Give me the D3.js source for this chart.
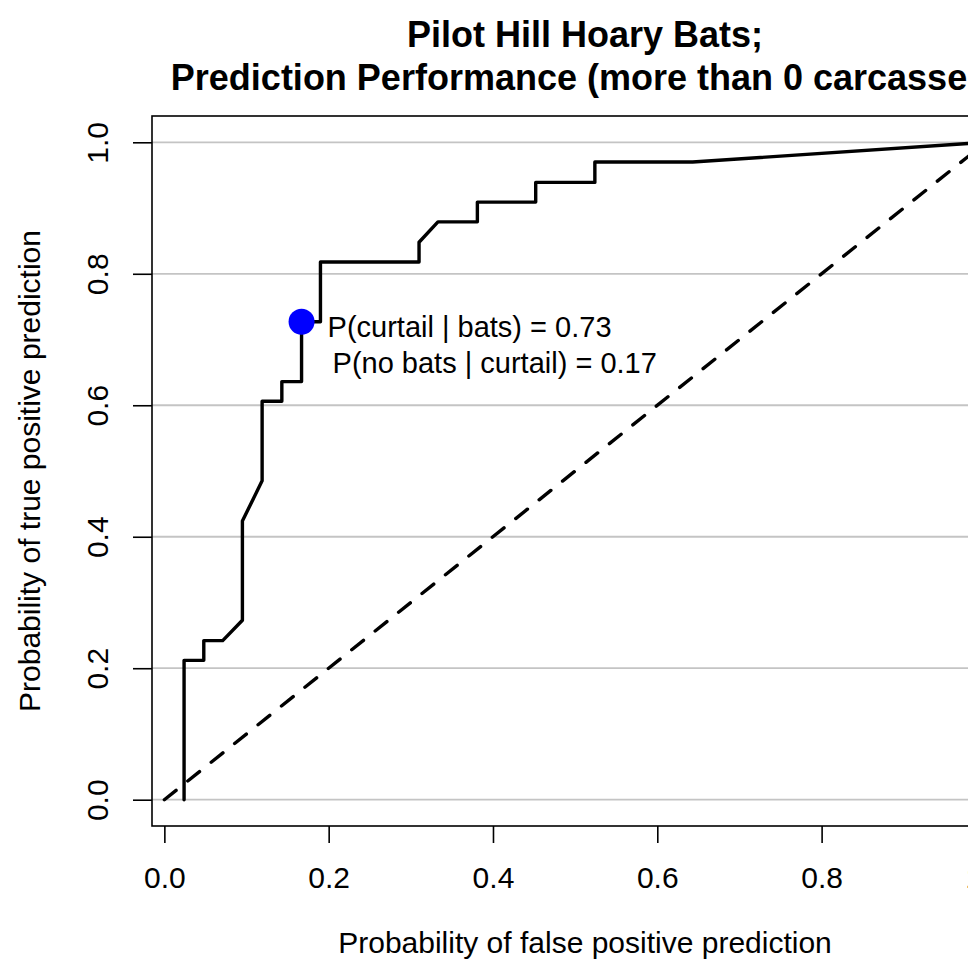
<!DOCTYPE html>
<html>
<head>
<meta charset="utf-8">
<script src="https://cdn.jsdelivr.net/npm/d3@7"></script>
<style>
  html, body { margin: 0; padding: 0; background: #ffffff; }
  svg { display: block; }
  text { font-family: "Liberation Sans", Arial, sans-serif; fill: #000; }
</style>
</head>
<body>
<svg id="chart" width="968" height="962"></svg>
<script>
// ROC curve: false positive rate vs true positive rate
const fpr = [0.024, 0.024, 0.048, 0.048, 0.071, 0.095, 0.095, 0.119, 0.119, 0.143, 0.143,
             0.167, 0.167, 0.190, 0.190, 0.310, 0.310, 0.333, 0.381, 0.381, 0.452, 0.452,
             0.524, 0.524, 0.643, 1.000];
const tpr = [0.000, 0.212, 0.212, 0.242, 0.242, 0.273, 0.424, 0.485, 0.606, 0.606, 0.636,
             0.636, 0.727, 0.727, 0.818, 0.818, 0.848, 0.879, 0.879, 0.909, 0.909, 0.939,
             0.939, 0.970, 0.970, 1.000];

// chance line
const chanceX = [0, 1];
const chanceY = [0, 1];

// chosen operating point
const cutoffFpr = 0.167;
const cutoffTpr = 0.727;

const xTicks = [0, 0.2, 0.4, 0.6, 0.8, 1.0];
const yTicks = [0, 0.2, 0.4, 0.6, 0.8, 1.0];
const gridLevels = [0, 0.2, 0.4, 0.6, 0.8, 1.0];

const titleLines = ["Pilot Hill Hoary Bats;", "Prediction Performance (more than 0 carcasses)"];
const xLabel = "Probability of false positive prediction";
const yLabel = "Probability of true positive prediction";

// ---- layout ----
const box = { left: 152, right: 1018, top: 116, bottom: 826 };
const svg = d3.select("#chart");

// axis ranges padded by 4% of the data extent on each side
function padded(ext) {
  const p = (ext[1] - ext[0]) * 0.04;
  return [ext[0] - p, ext[1] + p];
}
const xExt = d3.extent(fpr.concat(chanceX));
const yExt = d3.extent(tpr.concat(chanceY));
const x = d3.scaleLinear().domain(padded([d3.min(fpr), d3.max(fpr)])).range([box.left, box.right]);
const y = d3.scaleLinear().domain(padded(yExt)).range([box.bottom, box.top]);

const fmt1 = d3.format(".1f");
const fmt2 = d3.format(".2f");

// horizontal grid lines
svg.append("g").selectAll("line").data(gridLevels).join("line")
  .attr("x1", box.left).attr("x2", box.right)
  .attr("y1", d => y(d)).attr("y2", d => y(d))
  .attr("stroke", "#c4c4c4").attr("stroke-width", 1.8);

// chance diagonal
svg.append("path")
  .datum(chanceX.map((v, i) => [v, chanceY[i]]))
  .attr("d", d3.line().x(d => x(d[0])).y(d => y(d[1])))
  .attr("fill", "none").attr("stroke", "#000")
  .attr("stroke-width", 3.4).attr("stroke-dasharray", "15,15")
  .attr("stroke-linecap", "round");

// ROC curve
svg.append("path")
  .datum(fpr.map((v, i) => [v, tpr[i]]))
  .attr("d", d3.line().x(d => x(d[0])).y(d => y(d[1])))
  .attr("fill", "none").attr("stroke", "#000")
  .attr("stroke-width", 3.4).attr("stroke-linejoin", "round").attr("stroke-linecap", "round");

// operating point
svg.append("circle")
  .attr("cx", x(cutoffFpr)).attr("cy", y(cutoffTpr)).attr("r", 13)
  .attr("fill", "#0000ff");

svg.append("text")
  .attr("x", x(cutoffFpr) + 26).attr("y", y(cutoffTpr) + 15)
  .attr("font-size", 29)
  .text("P(curtail | bats) = " + fmt2(cutoffTpr));
svg.append("text")
  .attr("x", x(cutoffFpr) + 31).attr("y", y(cutoffTpr) + 51)
  .attr("font-size", 29)
  .text("P(no bats | curtail) = " + fmt2(cutoffFpr));

// plot frame
svg.append("rect")
  .attr("x", box.left).attr("y", box.top)
  .attr("width", box.right - box.left).attr("height", box.bottom - box.top)
  .attr("fill", "none").attr("stroke", "#000").attr("stroke-width", 1.6);

// x axis
const gx = svg.append("g").attr("transform", `translate(0,${box.bottom})`)
  .call(d3.axisBottom(x).tickValues(xTicks).tickSize(17).tickFormat(fmt1));
gx.select(".domain").remove();
gx.selectAll(".tick line").attr("stroke", "#000").attr("stroke-width", 1.6);
gx.selectAll(".tick text")
  .attr("y", 62).attr("dy", 0)
  .attr("font-size", 30).attr("font-family", "Liberation Sans, Arial, sans-serif")
  .attr("fill", "#000");

// y axis
const gy = svg.append("g").attr("transform", `translate(${box.left},0)`)
  .call(d3.axisLeft(y).tickValues(yTicks).tickSize(19).tickFormat(fmt1));
gy.select(".domain").remove();
gy.selectAll(".tick line").attr("stroke", "#000").attr("stroke-width", 1.6);
gy.selectAll(".tick text")
  .attr("transform", "rotate(-90)")
  .attr("x", 0).attr("y", -44).attr("dy", 0)
  .attr("text-anchor", "middle")
  .attr("font-size", 30).attr("font-family", "Liberation Sans, Arial, sans-serif")
  .attr("fill", "#000");

// axis titles
const cx = (box.left + box.right) / 2;
const cy = (box.top + box.bottom) / 2;
svg.append("text")
  .attr("x", cx).attr("y", 953)
  .attr("text-anchor", "middle").attr("font-size", 30)
  .text(xLabel);
svg.append("text")
  .attr("transform", `translate(40,${cy}) rotate(-90)`)
  .attr("text-anchor", "middle").attr("font-size", 30)
  .text(yLabel);

// main title
svg.append("g").selectAll("text").data(titleLines).join("text")
  .attr("x", cx).attr("y", (d, i) => 47 + i * 43)
  .attr("text-anchor", "middle").attr("font-size", 36).attr("font-weight", "bold")
  .text(d => d);
</script>
</body>
</html>
